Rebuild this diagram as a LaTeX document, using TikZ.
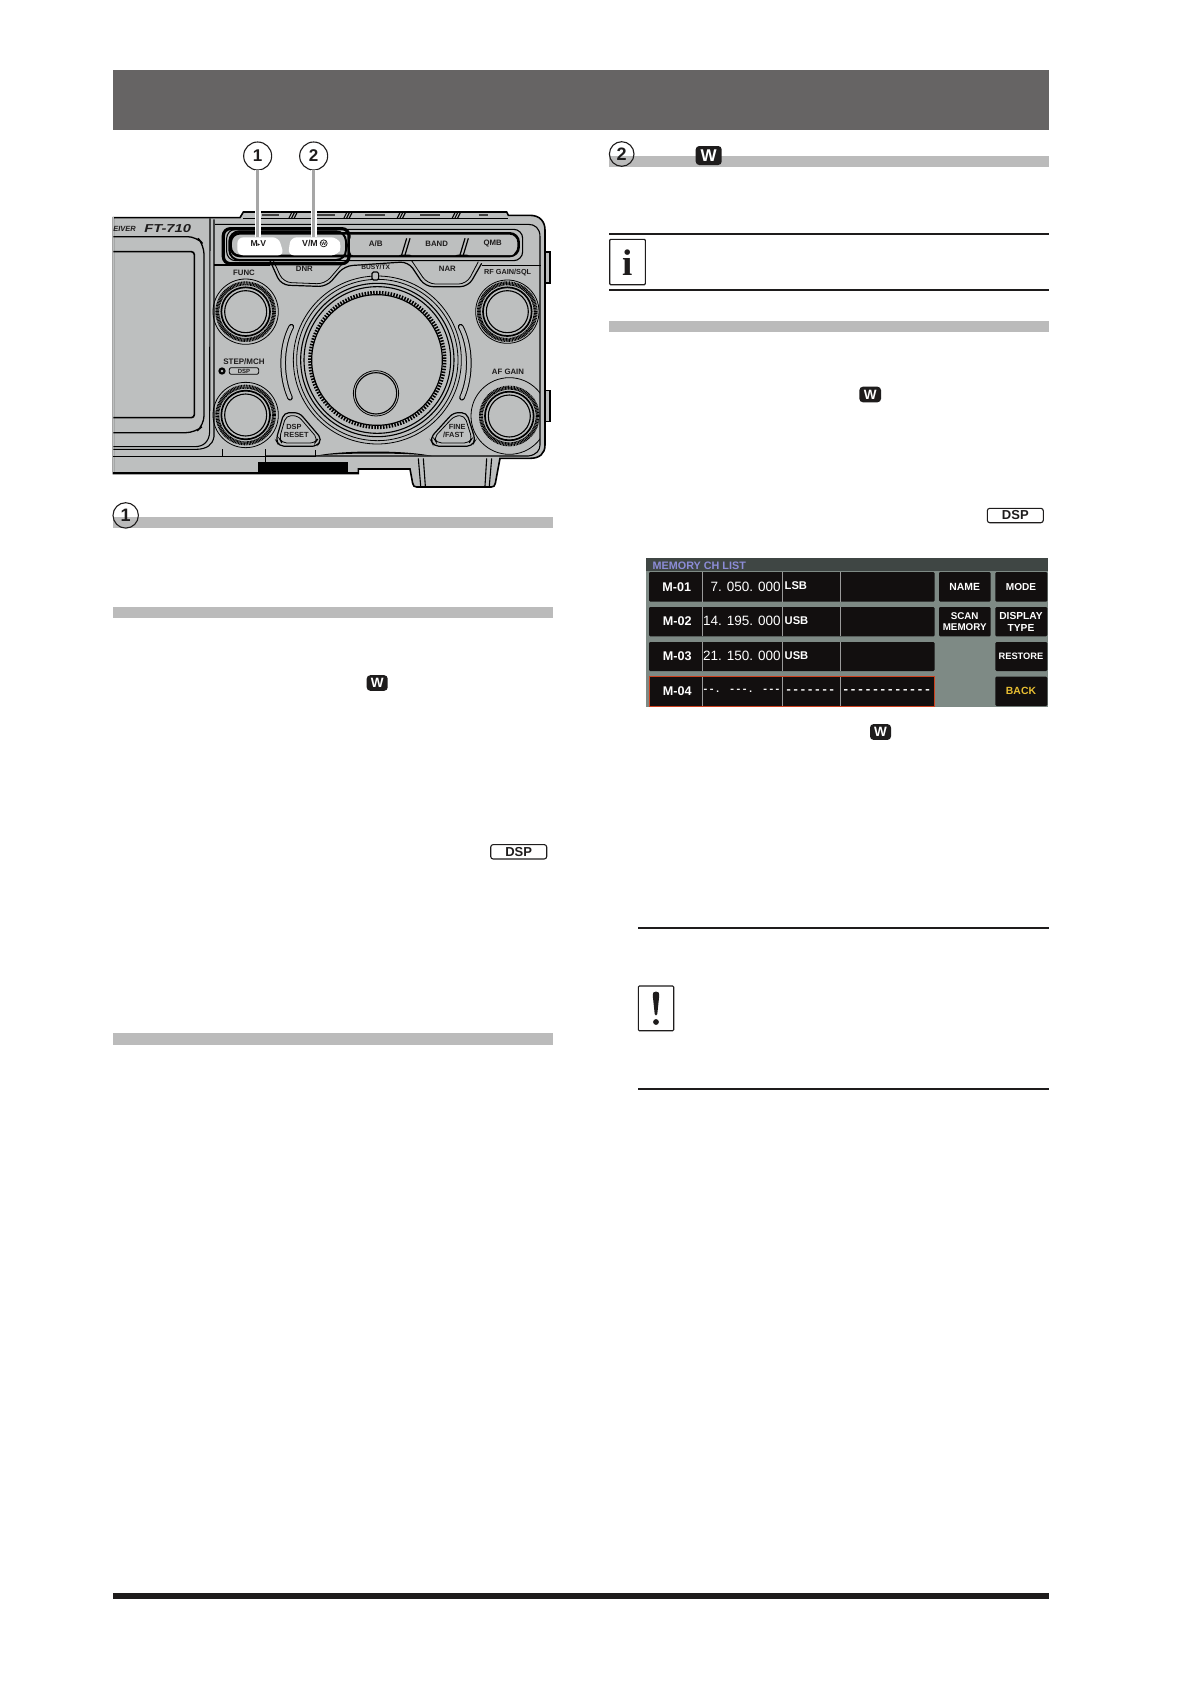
\documentclass[tikz,border=0pt]{standalone}
\usepackage{fontspec}
\usepackage{graphicx}
\setmainfont{Liberation Sans}
\newfontfamily\monof{Liberation Mono}
\newfontfamily\serff{Liberation Serif}
\newfontfamily\dejaf{DejaVu Sans}
\definecolor{panelgray}{HTML}{BDBFBF}
\definecolor{bargray}{HTML}{BBBBBB}
\definecolor{headgray}{HTML}{666464}
\definecolor{ink}{HTML}{1E1C1C}
\definecolor{lcdbg}{HTML}{7E8A85}
\definecolor{lcdtop}{HTML}{3F4644}
\definecolor{lcdrow}{HTML}{120F0F}
\definecolor{lcdsep}{HTML}{9A9A9A}
\definecolor{lcdtitle}{HTML}{8C8CD7}
\definecolor{lcdred}{HTML}{CD411E}
\definecolor{lcdyellow}{HTML}{E8BE32}
\newcommand{\fs}[1]{\fontsize{#1}{#1}\selectfont}
\tikzset{
 x=1pt,y=-1pt,
 barbox/.style={fill=bargray,draw=none},
 rulel/.style={line width=1.7pt,draw=ink},
 noinner/.style={inner sep=0pt,outer sep=0pt},
 wbadge/.style={noinner,fill=ink,rounded corners=3.5pt,text=white,font=\bfseries},
 dspkey/.style={noinner,draw=ink,line width=1.1pt,fill=white,rounded corners=2.5pt,text=ink,font=\bfseries\fs{13}},
 iconbox/.style={draw=ink,line width=1.1pt,rounded corners=1pt,fill=white},
 numcirc/.style={circle,noinner,draw=ink,line width=1.1pt,text=ink},
 leader/.style={draw=black!35,line width=3pt},
 lbl/.style={noinner,text=ink,font=\bfseries\fs{7.8},align=center},
 ln/.style={draw=black,line width=1.1pt},
 thinl/.style={draw=black,line width=.8pt},
 lcdtxt/.style={noinner,text=white,font=\bfseries\fs{10.2},align=center},
 lcdcell/.style={fill=lcdrow,rounded corners=1.2pt,draw=none},
}
\newcommand{\myknob}[4]{% x y outer knurlradius
 \begin{scope}
 \clip (0,0) rectangle (1320,1684);
 \draw[thinl] (#1,#2) circle[radius=#3];
 \end{scope}
 \draw[black,line width=4pt,dash pattern=on .9pt off .6pt] (#1,#2) circle[radius=#4];
 \draw[black,line width=1.7pt] (#1,#2) circle[radius=#4-12];
 \draw[black,line width=1.1pt,fill=panelgray] (#1,#2) circle[radius=#4-22];
}
\begin{document}
\begin{tikzpicture}
\useasboundingbox (0,0) rectangle (1191,1684);
\fill[white] (0,0) rectangle (1191,1684);
% page band
\fill[headgray] (113,70) rectangle (1049,130);
\fill[ink] (113,1592.5) rectangle (1049,1599);

% radio, in 3x coordinates
\begin{scope}[shift={(100,130)},xscale=1/3,yscale=1/3]
 % side tabs
 \draw[ln,fill=panelgray,line width=1.4pt] (1325,366) -- (1350,366) -- (1350,459) -- (1325,459);
 \draw[ln,fill=panelgray,line width=1.4pt] (1325,782) -- (1350,782) -- (1350,875) -- (1325,875);
 % body
 \draw[black,line width=1.6pt,fill=panelgray]
  (40,263) -- (420,263) -- (430,246) -- (1220,246) -- (1225,256) -- (1290,256)
  .. controls (1320,256) and (1335,275) .. (1335,300) -- (1335,945)
  .. controls (1335,970) and (1320,985) .. (1290,985) -- (1200,985) -- (1186,1060)
  .. controls (1184,1068) and (1181,1071) .. (1174,1071) -- (950,1071)
  .. controls (943,1071) and (940,1068) .. (938,1060) -- (930,1017)
  -- (775,1017) -- (775,1031) -- (40,1031) -- cycle;
 \fill[panelgray] (39,262) rectangle (41,1030);
 \fill[black] (475,995) rectangle (745,1031);
 \draw[black,line width=1.6pt] (40,1028) -- (775,1028);
 \draw[ln] (955,985) -- (962,1068) (970,985) -- (976,1068) (1160,985) -- (1155,1068) (1175,985) -- (1168,1068);
 % top strip marks
 \foreach \mx in {580,745,905,1070}{
  \draw[black,line width=1.1pt] (\mx-14,266) -- (\mx-4,246) (\mx-6,266) -- (\mx+4,246) (\mx+2,266) -- (\mx+12,246);
 }
 \foreach \mx/\mw in {512/25,675/30,825/30,990/30,1150/14}{
  \draw[black!75,line width=2.6pt] (\mx-\mw,255) -- (\mx+\mw,255);
 }
 \draw[black,line width=1.4pt] (430,266) -- (1225,266);
 % inner outline right
 \draw[ln] (345,283) -- (1285,283) .. controls (1305,283) and (1320,295) .. (1320,320) -- (1320,945)
  .. controls (1320,960) and (1310,975) .. (1285,978) -- (495,978);
 % screen bezel
 \draw[black,line width=1.6pt,rounded corners=3pt] (40,365) -- (283,365) -- (283,863) -- (40,863);
 \draw[black,line width=1.3pt,rounded corners=9pt] (40,320) -- (290,320) -- (312,345) -- (312,885) -- (285,908) -- (40,908);
 \draw[ln] (330,265) -- (329,905) .. controls (328,935) and (310,950) .. (285,950) -- (40,950);
 \draw[ln] (342,268) -- (342,920) .. controls (338,945) and (320,957) .. (290,958) -- (40,958);
 \draw[black,line width=1.3pt] (40,980) -- (645,980);
 \draw[thinl] (368,958) -- (368,980) (497,958) -- (497,995) (645,960) -- (645,980);
 % face lines
 \draw[ln] (342,405) -- (510,405) (1145,407) -- (1322,407);
 \draw[black,line width=1.2pt,rounded corners=8pt,fill=panelgray] (510,392) -- (543,465) -- (680,470) -- (733,408) -- (925,395) -- (975,470) -- (1105,470) -- (1145,400);
 \draw[thinl,rounded corners=8pt] (520,392) -- (550,457) -- (675,462) -- (728,400);
 \draw[thinl,rounded corners=8pt] (935,392) -- (982,462) -- (1100,462) -- (1135,395);
 % button frame
 \draw[black,line width=1.1pt,rounded corners=9pt] (380,298) rectangle (1268,392);
 \draw[black,line width=2.6pt,rounded corners=9pt] (392,310) rectangle (1256,378);
 \draw[black,line width=3.2pt,rounded corners=7pt] (370,296) rectangle (747,401);
 \draw[black,line width=2pt,rounded corners=10pt] (388,304) rectangle (738,390);
 \fill[panelgray,rounded corners=3pt] (750,320) -- (922,320) -- (906,375) -- (750,375) -- cycle;
 \fill[panelgray,rounded corners=3pt] (943,320) -- (1092,320) -- (1076,375) -- (925,375) -- cycle;
 \fill[panelgray,rounded corners=3pt] (1113,320) -- (1244,320) -- (1244,375) -- (1097,375) -- cycle;
 \draw[black,line width=1.2pt] (735,322) -- (752,377) (920,325) -- (905,375) (930,325) -- (915,375) (1095,325) -- (1080,375) (1105,325) -- (1090,375);
 \fill[white,rounded corners=6pt] (412,322) -- (536,322) -- (552,376) -- (412,376) -- cycle;
 \fill[white,rounded corners=6pt] (572,322) -- (712,322) -- (726,350) -- (712,376) -- (564,376) -- cycle;
 % dial
 \draw[thinl] (832,690) circle[radius=252];
 \draw[thinl] (832,690) circle[radius=242];
 \draw[ln] (832,690) circle[radius=230];
 \draw[ln] (832,690) circle[radius=220];
 \draw[black,line width=3.6pt,dash pattern=on 1.5pt off 1.4pt] (832,690) circle[radius=202];
 \draw[black,line width=1.2pt,fill=panelgray] (831,690) circle[radius=196];
 \draw[thinl] (828,790) circle[radius=68];
 \draw[ln] (828,790) circle[radius=62];
 % slots
 \draw[black,line width=5.6pt,line cap=round] (574,590) .. controls (542,650) and (542,740) .. (570,803);
 \draw[panelgray,line width=3.6pt,line cap=round] (574,590) .. controls (542,650) and (542,740) .. (570,803);
 \draw[black,line width=5.6pt,line cap=round] (1082,590) .. controls (1114,650) and (1114,740) .. (1086,803);
 \draw[panelgray,line width=3.6pt,line cap=round] (1082,590) .. controls (1114,650) and (1114,740) .. (1086,803);
 % busy lamp
 \draw[black,line width=1.1pt,fill=panelgray,rounded corners=1.5pt] (816,450) rectangle (836,426);
 % knobs
 \myknob{437}{545}{98}{85}
 \myknob{1222}{545}{95}{85}
 \myknob{437}{855}{98}{85}
 \myknob{1228}{858}{115}{85}
 % small keys
 \draw[black,line width=1.2pt,rounded corners=5pt,fill=panelgray] (552,848) -- (598,848) -- (666,928) -- (650,949) -- (538,949) -- (528,930) -- cycle;
 \draw[thinl,rounded corners=5pt] (558,857) -- (594,857) -- (654,927) -- (645,939) -- (545,939) -- (538,926) -- cycle;
 \draw[black,line width=1.2pt,rounded corners=5pt,fill=panelgray] (1060,848) -- (1100,848) -- (1126,930) -- (1115,949) -- (1002,949) -- (990,925) -- cycle;
 \draw[thinl,rounded corners=5pt] (1064,857) -- (1094,857) -- (1116,926) -- (1108,939) -- (1010,939) -- (1001,924) -- cycle;
 % lower sliver
 \fill[black] (645,978) .. controls (720,960) and (920,960) .. (995,978) .. controls (920,968) and (720,968) .. (645,978) -- cycle;
 % dsp tag and lamp
 \draw[black,line width=.8pt,rounded corners=2pt] (388,713) rectangle (476,733);
 \fill[black] (366,723) circle[radius=11];
 \fill[panelgray] (366,723) circle[radius=4];
 % labels
 \node[lbl] (lfunc) at (432,427) {FUNC};
 \node[lbl] (ldnr) at (613,417) {DNR};
 \node[lbl,font=\bfseries\fs{6.6}] (lbusy) at (827,413) {BUSY/TX};
 \node[lbl] (lnar) at (1042,417) {NAR};
 \node[lbl,font=\bfseries\fs{7.3}] (lrf) at (1223,427) {RF GAIN/SQL};
 \node[lbl,font=\bfseries\fs{8}] (lstep) at (432,694) {STEP/MCH};
 \node[lbl,font=\bfseries\fs{6}] (ldsp) at (432,723) {DSP};
 \node[lbl] (laf) at (1224,724) {AF GAIN};
 \node[lbl,font=\bfseries\fs{7.4}] (lreset1) at (582,892) {DSP};
 \node[lbl,font=\bfseries\fs{7.4}] (lreset2) at (589,916) {RESET};
 \node[lbl,font=\bfseries\fs{7.4},anchor=east] (lfine1) at (1097,892) {FINE};
 \node[lbl,font=\bfseries\fs{7.4},anchor=east] (lfine2) at (1092,916) {/FAST};
 \node[lbl,font=\bfseries\fs{8.6}] (lmv) at (475,340) {M{\dejaf\fs{5.5}▸}V};
 \node[lbl,font=\bfseries\fs{8.8}] (lvm) at (630,340) {V/M};
 \node[circle,noinner,draw=ink,line width=.7pt,minimum size=7pt,font=\bfseries\fs{5},text=ink] (lw) at (671,340) {W};
 \node[lbl,font=\bfseries\fs{8}] (lab) at (827,340) {A/B};
 \node[lbl] (lband) at (1010,340) {BAND};
 \node[lbl] (lqmb) at (1178,340) {QMB};
 \node[lbl,anchor=west,font=\bfseries\itshape\fs{7.5},text=ink] (leiver) at (40,298) {EIVER};
 \node[lbl,font=\bfseries\itshape\fs{11.5},text=ink] (lft) at (203,295) {\scalebox{1.28}[1]{FT-710}};
 \coordinate (lead1) at (473,320);
 \coordinate (lead2) at (641,320);
 \node[numcirc,minimum size=28pt,font=\bfseries\fs{17}] (c1) at (473,78) {1};
 \node[numcirc,minimum size=28pt,font=\bfseries\fs{17}] (c2) at (641,78) {2};
 \draw[white,line width=6pt] (c1.south) -- (lead1);
 \draw[leader] (c1.south) -- (lead1);
 \draw[white,line width=6pt] (c2.south) -- (lead2);
 \draw[leader] (c2.south) -- (lead2);
\end{scope}

% left column
\fill[barbox] (113,517) rectangle (553,528);
\fill[barbox] (113,607) rectangle (553,618);
\fill[barbox] (113,1033) rectangle (553,1044.5);
\node[numcirc,minimum size=25.4pt,font=\bfseries\fs{18},fill=none] (h1) at (125.7,515.4) {1};
\node[wbadge,minimum width=21pt,minimum height=15.6pt,font=\bfseries\fs{13.5}] (w1) at (377.2,683) {W};
\node[dspkey,minimum width=56pt,minimum height=14.4pt] (d1) at (518.7,851.8) {DSP};

% right column
\fill[barbox] (609,156) rectangle (1049,166.7);
\fill[barbox] (609,321) rectangle (1049,331.7);
\node[numcirc,minimum size=24.6pt,font=\bfseries\fs{18},fill=none] (h2) at (621.7,154) {2};
\node[wbadge,minimum width=26pt,minimum height=19pt,font=\bfseries\fs{17}] (w2) at (708.7,155.5) {W};
\draw[rulel] (609,234) -- (1049,234);
\draw[rulel] (609,290) -- (1049,290);
\draw[iconbox] (609.7,239.3) rectangle (645.3,284.7);
\node[noinner,anchor=base,font=\serff\bfseries\fs{37},text=ink] (icon) at (627.5,275) {i};
\node[wbadge,minimum width=21.6pt,minimum height=15.6pt,font=\bfseries\fs{13.5}] (w3) at (870.2,394.5) {W};
\node[dspkey,minimum width=56pt,minimum height=14.4pt] (d2) at (1015.3,515.5) {DSP};

% lcd, in 3x coordinates
\begin{scope}[shift={(630,550)},xscale=1/3,yscale=1/3]
 \fill[lcdbg] (48,25) rectangle (1255,470);
 \fill[lcdtop] (48,25) rectangle (1255,62);
 \node[lcdtxt,anchor=west,text=lcdtitle,font=\bfseries\fs{10.8}] (ttl) at (68,46) {MEMORY CH LIST};
 \foreach \ya/\yb in {66/155,171/259,276/363}{
  \fill[lcdcell] (57,\ya) rectangle (914,\yb);
  \draw[lcdsep,line width=.5pt] (217,\ya) -- (217,\yb) (458,\ya) -- (458,\yb) (632,\ya) -- (632,\yb);
 }
 \fill[lcdrow] (57,380) rectangle (914,468);
 \draw[lcdsep,line width=.5pt] (217,380) -- (217,468) (458,380) -- (458,468) (632,380) -- (632,468);
 \draw[lcdred,line width=1pt] (57,380) rectangle (914,468);
 \foreach \xa/\xb/\ya/\yb in {927/1082/66/155,927/1082/171/259,1096/1252/66/155,1096/1252/171/259,1096/1252/276/363,1096/1252/380/468}{
  \fill[lcdcell] (\xa,\ya) rectangle (\xb,\yb);
 }
 \node[lcdtxt,font=\bfseries\fs{12.6}] (m1) at (140,110) {M-01};
 \node[lcdtxt,font=\bfseries\fs{12.6}] (m2) at (142,214) {M-02};
 \node[lcdtxt,font=\bfseries\fs{12.6}] (m3) at (142,318) {M-03};
 \node[lcdtxt,font=\bfseries\fs{12.6}] (m4) at (142,423) {M-04};
 \node[lcdtxt,anchor=east,font=\fs{13.5}] (f1) at (452,110) {7. 050. 000};
 \node[lcdtxt,anchor=east,font=\fs{13.5}] (f2) at (452,213) {14. 195. 000};
 \node[lcdtxt,anchor=east,font=\fs{13.5}] (f3) at (452,318) {21. 150. 000};
 \node[lcdtxt,anchor=east,font=\monof\bfseries\fs{10.3}] (f4) at (452,424) {{-}{-}. {-}{-}{-}. {-}{-}{-}};
 \node[lcdtxt,anchor=west,font=\bfseries\fs{11.2}] (s1) at (464,108) {LSB};
 \node[lcdtxt,anchor=west,font=\bfseries\fs{11.2}] (s2) at (464,213) {USB};
 \node[lcdtxt,anchor=west,font=\bfseries\fs{11.2}] (s3) at (464,317) {USB};
 \node[lcdtxt,anchor=west,font=\monof\bfseries\fs{12}] (s4) at (465,424) {{-}{-}{-}{-}{-}{-}{-}};
 \node[lcdtxt,anchor=west,font=\monof\bfseries\fs{12.4}] (n4) at (636,424) {{-}{-}{-}{-}{-}{-}{-}{-}{-}{-}{-}{-}};
 \node[lcdtxt,font=\bfseries\fs{10.4}] (bname) at (1004,111) {NAME};
 \node[lcdtxt,font=\bfseries\fs{10.1}] (bmode) at (1173,111) {MODE};
 \node[lcdtxt,font=\bfseries\fs{9.8}] (bscan) at (1004,215) {SCAN\\[1.5pt]MEMORY};
 \node[lcdtxt,font=\bfseries\fs{10.2}] (bdisp) at (1173,215) {DISPLAY\\[1.5pt]TYPE};
 \node[lcdtxt,font=\bfseries\fs{9.3}] (brest) at (1173,319) {RESTORE};
 \node[lcdtxt,text=lcdyellow,font=\bfseries\fs{10.4}] (bback) at (1173,424) {BACK};
\end{scope}

\node[wbadge,minimum width=21pt,minimum height=15.8pt,font=\bfseries\fs{13.5}] (w4) at (880.5,732) {W};
\draw[rulel] (638,927.7) -- (1049,927.7);
\draw[rulel] (638,1089) -- (1049,1089);
\draw[iconbox] (638.3,986) rectangle (673.7,1030.7);
\fill[ink] (656,991.5) .. controls (653,991.5) and (652.5,993) .. (652.8,996) -- (654.7,1014) .. controls (655,1016) and (657,1016) .. (657.3,1014) -- (659.2,996) .. controls (659.5,993) and (659,991.5) .. (656,991.5) -- cycle;
\fill[ink] (656,1022) circle[radius=2.9];
\end{tikzpicture}
\end{document}
